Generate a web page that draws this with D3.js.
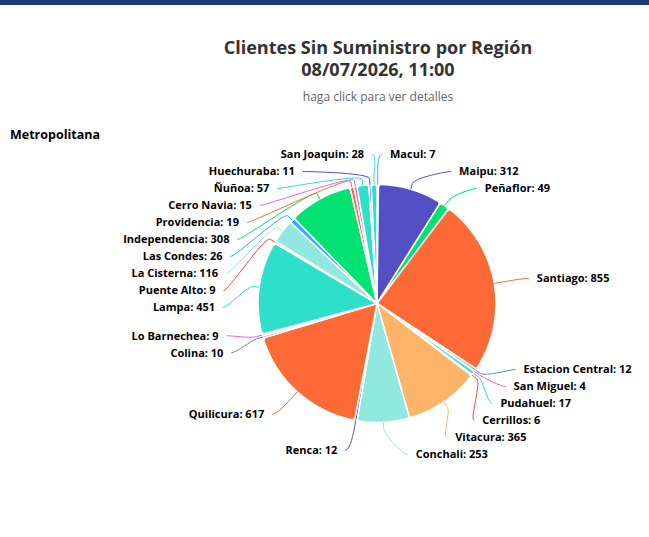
<!DOCTYPE html>
<html>
<head>
<meta charset="utf-8">
<script src="https://cdn.jsdelivr.net/npm/d3@7"></script>
<style>
  body { margin: 0; background: #fff; }
  svg { display: block; font-family: "Open Sans", "Noto Sans", sans-serif; }
</style>
</head>
<body>
<svg id="chart"></svg>
<script>
// comunas in the order the pie draws them, clockwise from 12 o'clock
const comunas = ['Macul', 'Maipu', 'Peñaflor', 'Santiago', 'Estacion Central', 'San Miguel',
  'Pudahuel', 'Cerrillos', 'Vitacura', 'Conchali', 'Renca', 'Quilicura', 'Colina',
  'Lo Barnechea', 'Lampa', 'Puente Alto', 'La Cisterna', 'Las Condes', 'Independencia',
  'Providencia', 'Cerro Navia', 'Ñuñoa', 'Huechuraba', 'San Joaquin'];
const clientes = [7, 312, 49, 855, 12, 4, 17, 6, 365, 253, 12, 617, 10, 9, 451, 9, 116, 26, 308, 19, 15, 57, 11, 28];
const colores = ['#2caffe', '#544fc5', '#00e272', '#fe6a35', '#6b8abc', '#d568fb',
  '#2ee0ca', '#fa4b42', '#feb56a', '#91e8e1', '#544fc5', '#fe6a35', '#6b8abc',
  '#d568fb', '#2ee0ca', '#fa4b42', '#91e8e1', '#2caffe', '#00e272', '#fe6a35',
  '#d568fb', '#2ee0ca', '#544fc5', '#2ee0ca'];

const titulo = ['Clientes Sin Suministro por Región', '08/07/2026, 11:00'];
const subtitulo = 'haga click para ver detalles';
const region = 'Metropolitana';

const width = 649, height = 537;
const cx = 377, cy = 303.5, radius = 119, distance = 30;
const R = radius + distance;   // circle the labels sit on
const lineH = 17;              // label slot height

const svg = d3.select('#chart').attr('width', width).attr('height', height);

// top navy strip
svg.append('rect').attr('x', 0).attr('y', 0).attr('width', width).attr('height', 5).attr('fill', '#1f3a78');

// titles
svg.selectAll('text.title')
  .data(titulo)
  .enter().append('text')
  .attr('class', 'title')
  .attr('x', 378).attr('y', (d, i) => 54 + i * 22)
  .attr('text-anchor', 'middle')
  .attr('fill', '#333')
  .style('font-size', '18px').style('font-weight', 'bold')
  .text(d => d);

svg.append('text')
  .attr('x', 378).attr('y', 101)
  .attr('text-anchor', 'middle')
  .attr('fill', '#666')
  .style('font-size', '12px')
  .text(subtitulo);

svg.append('text')
  .attr('x', 10).attr('y', 139)
  .attr('fill', '#000')
  .style('font-size', '12.5px').style('font-weight', 'bold')
  .text(region);

const data = comunas.map((c, i) => ({ name: c, value: clientes[i], color: colores[i] }));

const pie = d3.pie().sort(null).value(d => d.value);
const arcs = pie(data);

const arc = d3.arc().innerRadius(0).outerRadius(radius).cornerRadius(3);

const g = svg.append('g').attr('transform', `translate(${cx},${cy})`);

g.selectAll('path.slice')
  .data(arcs)
  .enter().append('path')
  .attr('class', 'slice')
  .attr('d', arc)
  .attr('fill', d => d.data.color)
  .attr('stroke', '#fff')
  .attr('stroke-width', 1.5)
  .attr('stroke-linejoin', 'round');

// label layout: natural spot on the outer circle, then push apart per side
const labels = arcs.map(d => {
  const a = (d.startAngle + d.endAngle) / 2;
  return {
    d: d,
    angle: a,
    right: a < Math.PI,
    target: cy - R * Math.cos(a)
  };
});

function distribute(items, minY, maxY) {
  items.sort((a, b) => a.target - b.target);
  let boxes = items.map(it => ({ targets: [it.target], items: [it], size: lineH, pos: 0 }));
  let overlapping = true;
  while (overlapping) {
    boxes.forEach(b => {
      const t = (d3.min(b.targets) + d3.max(b.targets)) / 2;
      b.pos = Math.max(minY - lineH / 2, Math.min(t - b.size / 2, maxY + lineH / 2 - b.size));
    });
    overlapping = false;
    for (let i = 1; i < boxes.length; i++) {
      const a = boxes[i - 1], b = boxes[i];
      if (a.pos + a.size > b.pos + 0.01) {
        a.targets = a.targets.concat(b.targets);
        a.items = a.items.concat(b.items);
        a.size += b.size;
        boxes.splice(i, 1);
        overlapping = true;
        break;
      }
    }
  }
  boxes.forEach(b => b.items.forEach((it, i) => { it.y = b.pos + lineH * i + lineH / 2; }));
}

const minY = cy - R, maxY = cy + R + 2;
distribute(labels.filter(l => l.right), minY, maxY);
distribute(labels.filter(l => !l.right), minY, maxY);

labels.forEach(l => {
  const s = Math.max(-1, Math.min((l.y - cy) / R, 0.985));
  const off = Math.cos(Math.asin(s)) * R;
  const dir = l.right ? 1 : -1;
  l.lx = cx + dir * (off + 5);      // connector end
  l.tx = cx + dir * (off + 13);     // text anchor
  const sa = Math.sin(l.angle), ca = -Math.cos(l.angle);
  l.touch = [cx + radius * sa, cy + radius * ca];
  l.brk = [cx + (radius + 6) * sa, cy + (radius + 6) * ca];
});

svg.selectAll('path.connector')
  .data(labels)
  .enter().append('path')
  .attr('class', 'connector')
  .attr('fill', 'none')
  .attr('stroke', l => l.d.data.color)
  .attr('stroke-width', 1)
  .attr('d', l => {
    const p = d3.path();
    p.moveTo(l.lx, l.y);
    p.bezierCurveTo(l.lx + (l.right ? -5 : 5), l.y,
      2 * l.brk[0] - l.touch[0], 2 * l.brk[1] - l.touch[1],
      l.brk[0], l.brk[1]);
    p.lineTo(l.touch[0], l.touch[1]);
    return p.toString();
  });

svg.selectAll('text.label')
  .data(labels)
  .enter().append('text')
  .attr('class', 'label')
  .attr('x', l => l.tx)
  .attr('y', l => l.y)
  .attr('dy', '0.35em')
  .attr('text-anchor', l => l.right ? 'start' : 'end')
  .attr('fill', '#000')
  .attr('stroke', '#fff')
  .attr('stroke-width', 2)
  .attr('stroke-linejoin', 'round')
  .attr('paint-order', 'stroke')
  .style('font-size', '11px').style('font-weight', 'bold')
  .text(l => `${l.d.data.name}: ${l.d.data.value}`);
</script>
</body>
</html>
